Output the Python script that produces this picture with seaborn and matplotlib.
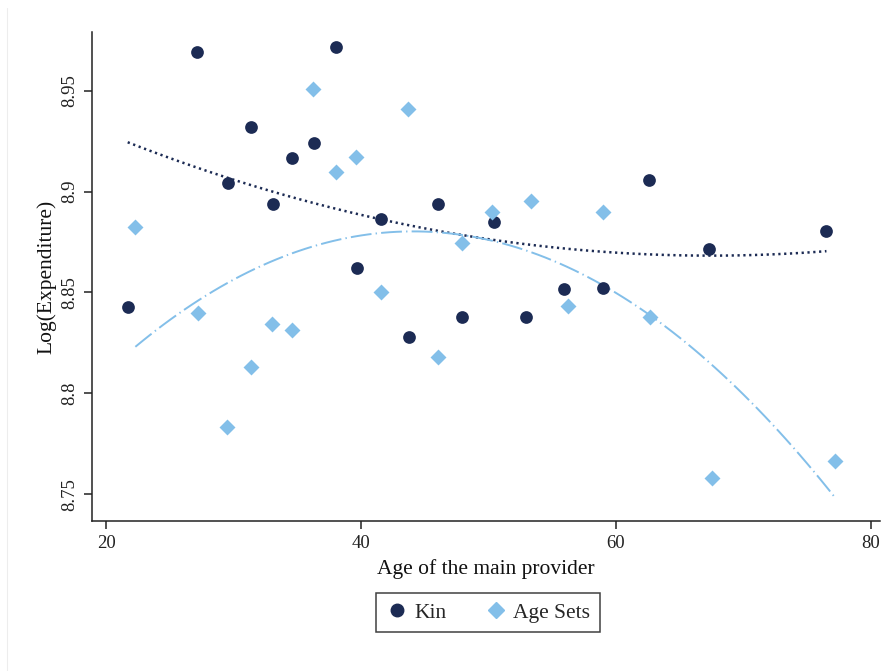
import numpy as np
import pandas as pd
import matplotlib
matplotlib.use("Agg")
import matplotlib.pyplot as plt
import seaborn as sns
from matplotlib.lines import Line2D

# ---- data ----
kin_age = [21.7, 27.1, 31.4, 29.6, 33.1, 34.6, 36.3, 38.0, 39.7, 41.6,
           46.0, 43.8, 50.4, 47.9, 52.9, 55.9, 59.0, 62.6, 67.3, 76.5]
kin_exp = [8.8428, 8.9693, 8.9317, 8.9040, 8.8939, 8.9168, 8.9238, 8.9718, 8.8619, 8.8865,
           8.8938, 8.8277, 8.8851, 8.8376, 8.8376, 8.8517, 8.8522, 8.9056, 8.8713, 8.8805]
age_age = [22.3, 27.2, 29.5, 31.4, 33.0, 34.6, 36.2, 38.0, 39.6, 43.7,
           41.6, 46.0, 47.9, 50.3, 53.3, 56.2, 59.0, 62.7, 67.5, 77.2]
age_exp = [8.8822, 8.8400, 8.7832, 8.8132, 8.8344, 8.8312, 8.9508, 8.9096, 8.9170, 8.9411,
           8.8502, 8.8180, 8.8745, 8.8898, 8.8952, 8.8434, 8.8896, 8.8378, 8.7583, 8.7667]
x_ticks = [20, 40, 60, 80]
y_ticks = [8.75, 8.8, 8.85, 8.9, 8.95]
y_tick_labels = ["8.75", "8.8", "8.85", "8.9", "8.95"]
series_names = ["Kin", "Age Sets"]

kin = pd.DataFrame({"age": kin_age, "exp": kin_exp})
ags = pd.DataFrame({"age": age_age, "exp": age_exp})

NAVY = "#1c2b54"
LBLUE = "#83bfe9"

sns.set_style("white")
plt.rcParams["font.family"] = ["Liberation Serif", "DejaVu Serif"]
plt.rcParams["lines.scale_dashes"] = False

fig = plt.figure(figsize=(8.83, 6.71), dpi=100)
# faint outer graph-region border on the left
fig.add_artist(Line2D([7.5 / 883, 7.5 / 883], [0, 1 - 8 / 671], color="#ededed", lw=0.8))

ax = fig.add_axes([92 / 883, 1 - 521 / 671, (880 - 92) / 883, (521 - 32) / 671])

sns.scatterplot(data=kin, x="age", y="exp", marker="o", s=84, color=NAVY,
                linewidth=0, ax=ax, zorder=3)
sns.scatterplot(data=ags, x="age", y="exp", marker="D", s=66, color=LBLUE,
                linewidth=0, ax=ax, zorder=3)

sns.regplot(data=kin, x="age", y="exp", order=2, scatter=False, ci=None, ax=ax,
            line_kws=dict(color=NAVY, lw=1.8, linestyle=(0, (1.6, 2.6))))
sns.regplot(data=ags, x="age", y="exp", order=2, scatter=False, ci=None, ax=ax,
            line_kws=dict(color=LBLUE, lw=1.4, linestyle=(0, (15, 3, 1, 3))))

ax.set_xlim(18.9, 80.7)
ax.set_ylim(8.7368, 8.979)
ax.set_xticks(x_ticks)
ax.set_yticks(y_ticks)
ax.set_yticklabels(y_tick_labels, rotation=90, va="center")
ax.tick_params(axis="both", direction="out", length=6, width=1.1, color="#222222",
               labelsize=13.5, labelcolor="#222222", left=True, bottom=True, pad=4)
for s in ["top", "right"]:
    ax.spines[s].set_visible(False)
for s in ["left", "bottom"]:
    ax.spines[s].set_color("#222222")
    ax.spines[s].set_linewidth(1.1)

ax.set_xlabel("Age of the main provider", fontsize=15.5, color="#111111", labelpad=5)
ax.set_ylabel("Log(Expenditure)", fontsize=15.5, color="#111111", labelpad=3.5)

handles = [
    Line2D([], [], marker="o", linestyle="none", color=NAVY, markersize=9),
    Line2D([], [], marker="D", linestyle="none", color=LBLUE, markersize=8),
]
leg = fig.legend(handles, series_names, loc="center", bbox_to_anchor=(488 / 883, 1 - 612.5 / 671),
                 ncol=2, frameon=True, fancybox=False, fontsize=15.5, handletextpad=0.3,
                 columnspacing=1.8, handlelength=1.0, borderpad=0.45)
leg.get_frame().set_edgecolor("#111111")
leg.get_frame().set_linewidth(1.1)

fig.savefig("out.png", dpi=100, facecolor="white")
